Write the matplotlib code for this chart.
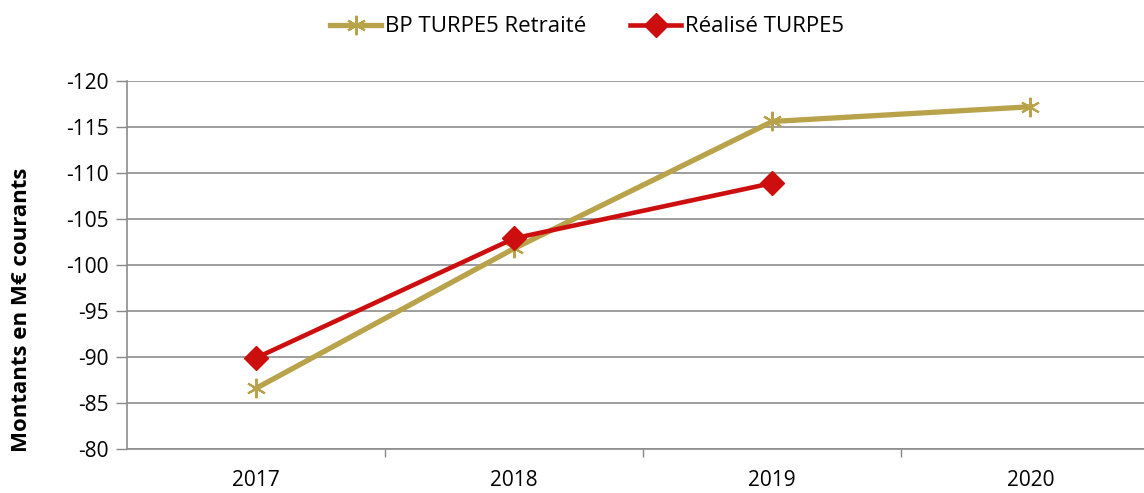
import matplotlib
matplotlib.use("Agg")
import matplotlib.pyplot as plt

years = ["2017", "2018", "2019", "2020"]
bp_values = [-86.6, -101.8, -115.6, -117.2]
realise_years = ["2017", "2018", "2019"]
realise_values = [-89.9, -102.9, -108.9]
yticks = [-80, -85, -90, -95, -100, -105, -110, -115, -120]

plt.rcParams['font.family'] = ['Open Sans', 'DejaVu Sans']

fig = plt.figure(figsize=(11.44, 4.93), dpi=100)
ax = fig.add_axes([0.111, 0.0892, 0.889, 0.7465])

gold = '#B8A24A'
red = '#CC0E0E'
x_bp = list(range(len(years)))
x_re = list(range(len(realise_years)))

ax.plot(x_bp, bp_values, color=gold, lw=3.8, marker=(6, 2, 0), ms=14,
        mec=gold, mew=1.5, label='BP TURPE5 Retraité', zorder=3)
ax.plot(x_re, realise_values, color=red, lw=3.3, marker='D', ms=12,
        mec=red, mfc=red, label='Réalisé TURPE5', zorder=4)

ax.set_ylim(-80, -120)
ax.set_yticks(yticks)
ax.set_yticklabels([str(v) for v in yticks], fontsize=15)
ax.set_xlim(-0.5, 3.44)
ax.set_xticks(x_bp)
ax.set_xticklabels(years, fontsize=15)
ax.tick_params(axis='x', length=0, pad=15)
ax.set_xticks([0.5, 1.5, 2.5], minor=True)
ax.tick_params(axis='x', which='minor', length=6, color='#888888', width=1)
ax.tick_params(axis='y', length=8, color='#888888', width=1, direction='out', pad=5)
ax.grid(axis='y', color='#8c8c8c', lw=1.2)
ax.set_axisbelow(True)
for s in ['top', 'right']:
    ax.spines[s].set_visible(False)
for s in ['left', 'bottom']:
    ax.spines[s].set_color('#8c8c8c')
    ax.spines[s].set_linewidth(1.2)

ax.set_ylabel('Montants en M€ courants', fontsize=16, fontweight='bold')
ax.yaxis.set_label_coords(-0.093, 0.378)

leg = fig.legend(loc='center', bbox_to_anchor=(587 / 1144, 1 - 27 / 493), ncol=2, frameon=False,
                 fontsize=16, handlelength=2.3, handletextpad=0.15, columnspacing=2.0)

fig.savefig('out.png', dpi=100)
